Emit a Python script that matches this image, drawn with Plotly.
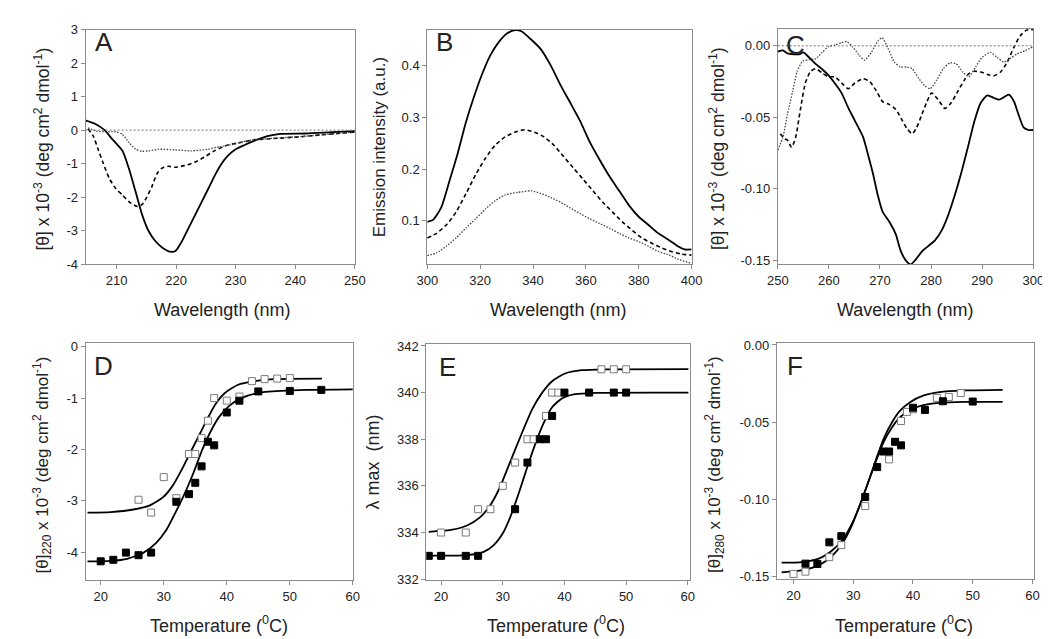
import plotly.graph_objects as go

# ---- Panel A: far-UV CD spectra ----
a_wl_solid = [204.8, 206.6, 208, 209.1, 210.4, 211, 212.1, 213.2, 214.3, 215.4, 216.5, 217.7, 219, 219.9,
              221, 222.1, 223.2, 224.3, 225.4, 226.5, 227.6, 228.7, 230, 231.4, 233.1, 235.3, 237.5, 241.8, 246.2, 250]
a_solid = [0.29, 0.17, 0, -0.23, -0.49, -0.62, -1.16, -1.84, -2.53, -3.02, -3.31, -3.51, -3.63, -3.61,
           -3.31, -2.92, -2.53, -2.14, -1.75, -1.35, -1.01, -0.76, -0.57, -0.45, -0.32, -0.18, -0.11, -0.10, -0.06, -0.03]
a_wl_dash = [205.2, 206.1, 206.9, 207.7, 208.8, 209.9, 211, 212.1, 213.5, 214.3, 215.1, 215.9, 216.8, 217.6,
             218.7, 219.8, 221.4, 223.1, 224.7, 226.4, 228.6, 230.8, 233.1, 236.4, 240.7, 245.1, 250]
a_dash = [0.04, -0.18, -0.57, -0.96, -1.45, -1.75, -1.94, -2.14, -2.28, -2.22, -1.99, -1.70, -1.30, -1.14,
          -1.08, -1.11, -1.06, -0.96, -0.81, -0.62, -0.45, -0.37, -0.29, -0.25, -0.20, -0.13, -0.06]
a_wl_dot = [205.2, 206.6, 208.2, 209.9, 211, 212.1, 213.2, 214.3, 215.4, 217.1, 219.8, 222.5, 225.3, 227.4,
            229.7, 231.9, 234.1, 237.4, 241.8, 246.2, 250]
a_dot = [0.07, -0.03, -0.05, -0.05, -0.13, -0.37, -0.57, -0.63, -0.62, -0.57, -0.59, -0.62, -0.57, -0.49,
         -0.42, -0.32, -0.27, -0.23, -0.18, -0.11, -0.06]

# ---- Panel B: fluorescence emission ----
b_wl_solid = [300, 302.2, 305.3, 308.4, 311.5, 314.6, 317.7, 320.8, 323.8, 326.9, 330, 333.1, 335.6, 339.3,
              343, 346.7, 350.4, 354.1, 357.8, 361.5, 365.2, 368.9, 372.6, 376.3, 380, 383.7, 387.4, 391.1,
              394.8, 397.3, 400]
b_solid = [0.098, 0.102, 0.126, 0.177, 0.230, 0.290, 0.340, 0.384, 0.419, 0.444, 0.461, 0.468, 0.466, 0.450,
           0.431, 0.400, 0.362, 0.328, 0.293, 0.252, 0.218, 0.186, 0.158, 0.130, 0.108, 0.092, 0.076, 0.064,
           0.051, 0.045, 0.045]
b_wl = [300, 303.5, 307.2, 310.9, 314.6, 318.3, 322, 325.7, 329.4, 333.1, 336.8, 340.5, 344.2, 347.9,
        351.6, 355.3, 359, 362.7, 366.4, 370.1, 373.8, 377.5, 381.2, 384.9, 388.6, 392.3, 396, 400]
b_dash = [0.067, 0.076, 0.092, 0.117, 0.152, 0.189, 0.221, 0.246, 0.262, 0.271, 0.276, 0.271, 0.262, 0.246,
          0.224, 0.202, 0.180, 0.158, 0.136, 0.117, 0.098, 0.082, 0.067, 0.057, 0.048, 0.041, 0.036, 0.034]
b_wl_dot = [300, 303.5, 307.2, 310.9, 314.6, 318.3, 322, 325.7, 329.4, 334.3, 339.3, 343, 346.7, 350.4,
            354.1, 357.8, 361.5, 365.2, 368.9, 372.6, 376.3, 380, 383.7, 387.4, 391.1, 394.8, 400]
b_dot = [0.033, 0.038, 0.051, 0.067, 0.086, 0.104, 0.123, 0.139, 0.150, 0.155, 0.158, 0.153, 0.145, 0.136,
         0.125, 0.114, 0.104, 0.095, 0.086, 0.076, 0.067, 0.060, 0.051, 0.041, 0.035, 0.026, 0.018]

# ---- Panel C: near-UV CD spectra ----
c_wl_solid = [250, 251, 251.9, 253.2, 254.2, 255, 256.1, 257.4, 258.7, 259.9, 261.2, 262.5, 263.8, 265.1,
              266.7, 267.6, 268.6, 269.6, 270.5, 271.8, 273.1, 274.0, 275.0, 276.0, 276.9, 278.2, 279.5,
              280.8, 282.1, 283.3, 284.6, 285.9, 287.2, 288.5, 289.7, 291, 292.3, 293.3, 294.2, 295.2,
              296.2, 297.1, 298.1, 299, 300]
c_solid = [-0.0041, -0.0032, -0.0053, -0.0059, -0.0059, -0.0046, -0.0080, -0.0126, -0.0164, -0.0205,
           -0.0263, -0.0331, -0.0434, -0.0525, -0.0639, -0.0753, -0.0890, -0.105, -0.116, -0.123, -0.132,
           -0.143, -0.150, -0.153, -0.150, -0.144, -0.140, -0.136, -0.129, -0.119, -0.105, -0.089, -0.071,
           -0.0525, -0.040, -0.0347, -0.0365, -0.0377, -0.0361, -0.0342, -0.0388, -0.048, -0.0571,
           -0.0589, -0.0589]
c_wl_dash = [250.5, 251.3, 251.9, 252.7, 253.5, 254.5, 255.4, 256.4, 257.4, 258.7, 259.9, 261.2, 262.5,
             263.8, 265.1, 266.7, 268, 269.2, 270.5, 271.8, 273.1, 274.4, 275.3, 276.3, 277.2, 278.2,
             279.2, 280.1, 281.4, 282.7, 283.9, 285.2, 286.5, 287.4, 288.5, 289.7, 291, 292.3, 293.6,
             294.9, 296.2, 297.4, 298.7, 300]
c_dash = [-0.0616, -0.065, -0.066, -0.071, -0.064, -0.043, -0.026, -0.018, -0.016, -0.019, -0.0217,
          -0.0217, -0.026, -0.030, -0.026, -0.023, -0.025, -0.031, -0.039, -0.041, -0.0445, -0.0525,
          -0.058, -0.0616, -0.057, -0.048, -0.039, -0.033, -0.0377, -0.0438, -0.040, -0.032, -0.024,
          -0.0194, -0.0178, -0.0183, -0.020, -0.021, -0.0183, -0.0114, -0.0011, 0.0068, 0.011, 0.0114]
c_wl_dot = [250, 251, 251.9, 252.9, 253.8, 254.8, 256.1, 257.4, 258.7, 259.9, 261.2, 262.5, 263.5, 264.7,
            266, 267, 268.3, 269.6, 270.4, 271.5, 272.8, 274.0, 275.3, 276.3, 277.6, 278.8, 279.8, 281.1,
            282.4, 283.7, 284.9, 286.2, 287.4, 288.7, 290, 291.6, 292.9, 294.2, 295.5, 296.8, 298.4, 300]
c_dot = [-0.073, -0.064, -0.048, -0.032, -0.018, -0.011, -0.0096, -0.0091, -0.0046, -0.0005, 0.0005,
         0.0023, 0.003, -0.0011, -0.0068, -0.010, -0.0046, 0.0034, 0.0057, -0.0011, -0.0114, -0.0148,
         -0.0148, -0.016, -0.0228, -0.028, -0.030, -0.024, -0.016, -0.0119, -0.0126, -0.0183, -0.0217,
         -0.0148, -0.008, -0.0046, -0.008, -0.0114, -0.0087, -0.0057, -0.0034, -0.0005]

# ---- Panel D: [θ]220 vs temperature ----
d_t_fill = [20, 22, 24, 26, 28, 32, 34, 35, 36, 37, 38, 40, 42, 45, 50, 55]
d_fill = [-4.18, -4.15, -4.01, -4.06, -4.01, -3.02, -2.87, -2.65, -2.33, -1.85, -1.92, -1.28, -1.05, -0.87, -0.86, -0.84]
d_t_open = [26, 28, 30, 32, 34, 35, 36, 37, 38, 40, 42, 44, 46, 48, 50]
d_open = [-2.98, -3.23, -2.54, -2.95, -2.09, -2.09, -1.78, -1.44, -1.00, -1.05, -0.97, -0.67, -0.63, -0.62, -0.61]
d_fit_t_fill = [17.9, 21.6, 24.2, 26.8, 28.8, 30.4, 31.9, 33.5, 34.8, 36.1, 37.4, 38.7, 40.3, 42.3, 44.9, 48.6, 52.7, 60]
d_fit_fill = [-4.18, -4.17, -4.13, -4.01, -3.82, -3.57, -3.22, -2.81, -2.43, -2.01, -1.66, -1.38, -1.16, -1.00, -0.90, -0.86, -0.84, -0.83]
d_fit_t_open = [17.9, 21.6, 25.2, 27.8, 29.9, 31.4, 33.0, 34.3, 35.6, 36.9, 38.2, 39.7, 41.8, 44.4, 47.5, 55.1]
d_fit_open = [-3.23, -3.22, -3.17, -3.09, -2.93, -2.71, -2.36, -2.04, -1.73, -1.41, -1.12, -0.90, -0.74, -0.67, -0.63, -0.62]

# ---- Panel E: λmax vs temperature ----
e_t_fill = [18, 20, 24, 26, 32, 34, 36, 37, 38, 40, 44, 48, 50]
e_fill = [333, 333, 333, 333, 335, 337, 338, 338, 339, 340, 340, 340, 340]
e_t_open = [20, 24, 26, 28, 30, 32, 34, 35, 37, 38, 39, 46, 48, 50]
e_open = [334, 334, 335, 335, 336, 337, 338, 338, 339, 340, 340, 341, 341, 341]
e_fit_t_fill = [18, 24.2, 26.9, 28.5, 30.1, 31.4, 32.7, 34.0, 35.4, 36.7, 38.0, 39.6, 41.7, 45.4, 60.1]
e_fit_fill = [333.01, 333.03, 333.17, 333.45, 334.01, 334.79, 335.77, 336.83, 337.89, 338.73, 339.37, 339.75, 339.93, 339.99, 340.0]
e_fit_t_open = [18, 21.6, 24.2, 26.3, 27.9, 29.5, 30.8, 32.2, 33.5, 34.8, 36.4, 38.0, 40.1, 42.8, 47.0, 60.1]
e_fit_open = [334.03, 334.11, 334.30, 334.65, 335.14, 335.92, 336.76, 337.68, 338.52, 339.30, 340.0, 340.49, 340.82, 340.96, 341.0, 341.01]

# ---- Panel F: [θ]280 vs temperature ----
f_t_fill = [22, 24, 26, 28, 32, 34, 35, 36, 37, 38, 40, 42, 45, 50]
f_fill = [-0.1418, -0.142, -0.128, -0.124, -0.0986, -0.0792, -0.0691, -0.0691, -0.0628, -0.0651, -0.0407, -0.0421, -0.0365, -0.0367]
f_t_open = [20, 22, 26, 28, 32, 36, 38, 39, 40, 44, 46, 48]
f_open = [-0.1485, -0.147, -0.1376, -0.1298, -0.1045, -0.0742, -0.0493, -0.0434, -0.0417, -0.0343, -0.0337, -0.0312]
f_fit_t = [18.0, 21.5, 24.2, 26.4, 28.1, 29.7, 31.0, 32.4, 33.8, 35.1, 36.5, 37.8, 39.5, 41.7, 44.4, 48.7, 55.0]
f_fit_fill = [-0.1412, -0.1408, -0.1386, -0.1334, -0.127, -0.1165, -0.105, -0.0902, -0.0754, -0.0628, -0.0533, -0.047, -0.0421, -0.039, -0.0375, -0.0369, -0.0369]
f_fit_open = [-0.1475, -0.146, -0.1429, -0.137, -0.1292, -0.1176, -0.105, -0.0902, -0.0744, -0.0607, -0.0501, -0.0428, -0.0371, -0.0329, -0.0306, -0.0295, -0.0291]

W, H = 1050, 639
FONT = "Arial, Liberation Sans, sans-serif"
TXT = "#222222"
FRAME = "#8c8c8c"
DASH = "4px,3px"
DOT = "1.5px,1.5px"

fig = go.Figure()


def line(ax, x, y, dash="solid", width=1.8, color="#000000"):
    fig.add_trace(go.Scatter(x=x, y=y, mode="lines", xaxis="x" + ax, yaxis="y" + ax,
                             line=dict(color=color, width=width, dash=dash, shape="spline", smoothing=0.6),
                             showlegend=False, hoverinfo="skip"))


def squares(ax, x, y, filled):
    fig.add_trace(go.Scatter(
        x=x, y=y, mode="markers", xaxis="x" + ax, yaxis="y" + ax, showlegend=False,
        marker=dict(symbol="square", size=7,
                    color="#000000" if filled else "#ffffff",
                    line=dict(color="#000000" if filled else "#7a7a7a", width=1))))


line("", a_wl_solid, a_solid)
line("", a_wl_dash, a_dash, DASH, 1.6)
line("", a_wl_dot, a_dot, DOT, 1.3, "#444444")

line("2", b_wl_solid, b_solid)
line("2", b_wl, b_dash, DASH, 1.6)
line("2", b_wl_dot, b_dot, DOT, 1.3, "#444444")

line("3", c_wl_solid, c_solid)
line("3", c_wl_dash, c_dash, DASH, 1.6)
line("3", c_wl_dot, c_dot, DOT, 1.3, "#444444")

line("4", d_fit_t_fill, d_fit_fill)
line("4", d_fit_t_open, d_fit_open)
squares("4", d_t_open, d_open, False)
squares("4", d_t_fill, d_fill, True)

line("5", e_fit_t_fill, e_fit_fill)
line("5", e_fit_t_open, e_fit_open)
squares("5", e_t_open, e_open, False)
squares("5", e_t_fill, e_fill, True)

line("6", f_fit_t, f_fit_fill)
line("6", f_fit_t, f_fit_open)
squares("6", f_t_open, f_open, False)
squares("6", f_t_fill, f_fill, True)

# plot-area boxes in pixels: (left, right, top, bottom)
boxes = {
    "": (68, 343, 15, 255), "2": (417, 687, 15, 255), "3": (775, 1036, 14, 255),
    "4": (68, 341, 335, 578), "5": (416, 685, 336, 578), "6": (774, 1037, 335, 577),
}
xranges = {"": [204.8, 250], "2": [300, 400], "3": [250, 300],
           "4": [17.6, 60], "5": [17.6, 60.3], "6": [17.2, 60.3]}
yranges = {"": [-4.01, 3.0], "2": [0.016, 0.469], "3": [-0.153, 0.012],
           "4": [-4.55, 0.08], "5": [331.95, 342.1], "6": [-0.152, 0.0015]}
xticks = {"": [210, 220, 230, 240, 250], "2": [300, 320, 340, 360, 380, 400],
          "3": [250, 260, 270, 280, 290, 300], "4": [20, 30, 40, 50, 60],
          "5": [20, 30, 40, 50, 60], "6": [20, 30, 40, 50, 60]}
yticks = {"": [-4, -3, -2, -1, 0, 1, 2, 3], "2": [0.1, 0.2, 0.3, 0.4],
          "3": [-0.15, -0.10, -0.05, 0.00], "4": [-4, -3, -2, -1, 0],
          "5": [332, 334, 336, 338, 340, 342], "6": [-0.15, -0.10, -0.05, 0.00]}
yfmt = {"": "{:.0f}", "2": "{:.1f}", "3": "{:.2f}", "4": "{:.0f}", "5": "{:.0f}", "6": "{:.2f}"}

axis_common = dict(showline=True, linecolor=FRAME, linewidth=1, mirror=True, ticks="outside",
                   ticklen=4, tickcolor=FRAME, showgrid=False, zeroline=False,
                   tickfont=dict(family=FONT, size=13, color=TXT))
layout = {}
for ax, (l, r, t, b) in boxes.items():
    yv = yticks[ax]
    layout["xaxis" + ax] = dict(axis_common, domain=[l / W, r / W], range=xranges[ax],
                                anchor="y" + ax, tickvals=xticks[ax],
                                ticktext=[str(v) for v in xticks[ax]])
    layout["yaxis" + ax] = dict(axis_common, domain=[1 - b / H, 1 - t / H], range=yranges[ax],
                                anchor="x" + ax, tickvals=yv,
                                ticktext=[yfmt[ax].format(v).replace("-0.00", "0.00") for v in yv])
fig.update_layout(**layout)

# dotted zero reference lines in A and C
for ax in ["", "3"]:
    fig.add_shape(type="line", xref=("x" + ax if ax else "x") + " domain", yref="y" + ax,
                  x0=0, x1=1, y0=0, y1=0, line=dict(color="#777777", width=1, dash="2px,2px"))

theta = "[θ] x 10<sup>-3</sup> (deg cm<sup>2</sup> dmol<sup>-1</sup>)"
ann = []


def txt(text, x, y, size, angle=0):
    ann.append(dict(text=text, x=x / W, y=1 - y / H, xref="paper", yref="paper", showarrow=False,
                    textangle=angle, xanchor="center", yanchor="middle",
                    font=dict(family=FONT, size=size, color=TXT)))


# panel letters
for letter, x, y in [("A", 87, 28), ("B", 435, 28), ("C", 793, 31),
                     ("D", 86, 359), ("E", 438, 360), ("F", 793, 359)]:
    txt(letter, x, y, 26)

# x titles
for x, y in [(207, 302), (551, 302), (905, 302)]:
    txt("Wavelength (nm)", x, y, 18)
for x, y in [(204, 623), (549, 623), (904, 623)]:
    txt("Temperature (<sup>0</sup>C)", x, y, 18)

# y titles
txt(theta, 23, 137, 17.5, -90)
txt("Emission intensity (a.u.)", 368, 135, 17, -90)
txt(theta, 713, 137, 17.5, -90)
txt("[θ]<sub>220</sub> x 10<sup>-3</sup> (deg cm<sup>2</sup> dmol<sup>-1</sup>)", 24, 460, 17, -90)
txt("λ max  (nm)", 362, 457, 18, -90)
txt("[θ]<sub>280</sub> x 10<sup>-3</sup> (deg cm<sup>2</sup> dmol<sup>-1</sup>)", 711, 460, 17, -90)

fig.update_layout(width=W, height=H, margin=dict(l=0, r=0, t=0, b=0),
                  paper_bgcolor="#ffffff", plot_bgcolor="#ffffff",
                  font=dict(family=FONT, color=TXT), showlegend=False, annotations=ann)

fig.write_html("out.html")
